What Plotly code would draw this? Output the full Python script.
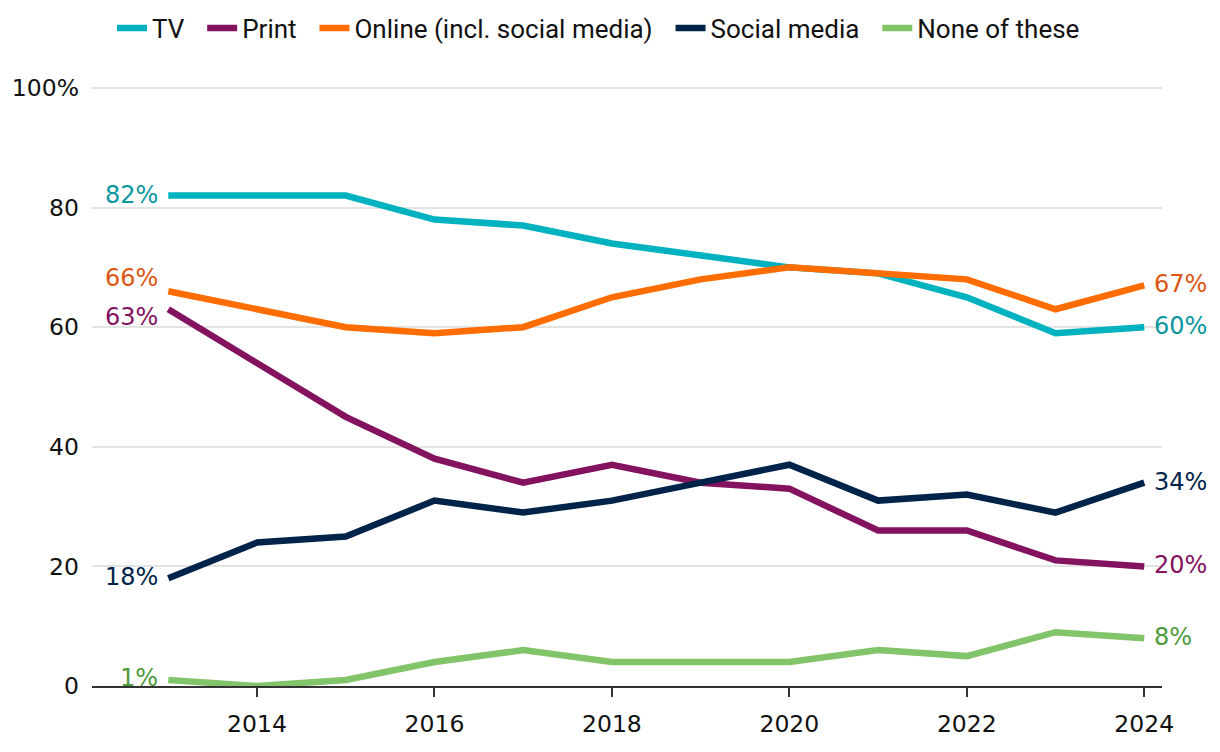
import plotly.graph_objects as go

years = list(range(2013, 2025))
tv = [82, 82, 82, 78, 77, 74, 72, 70, 69, 65, 59, 60]
print_ = [63, 54, 45, 38, 34, 37, 34, 33, 26, 26, 21, 20]
online = [66, 63, 60, 59, 60, 65, 68, 70, 69, 68, 63, 67]
social = [18, 24, 25, 31, 29, 31, 34, 37, 31, 32, 29, 34]
none_ = [1, 0, 1, 4, 6, 4, 4, 4, 6, 5, 9, 8]

series = [
    ("TV", tv, "#00b2bf", "#0a97a0"),
    ("Print", print_, "#83125f", "#83125f"),
    ("Online (incl. social media)", online, "#ff6c00", "#dc5510"),
    ("Social media", social, "#00234a", "#00234a"),
    ("None of these", none_, "#82c46a", "#4e9a3c"),
]

LEG_FONT = "Roboto"
NUM_FONT = "DejaVu Sans"
fig = go.Figure()
for name, vals, col, _ in series:
    fig.add_trace(go.Scatter(x=years, y=vals, name=name + "\u00a0\u00a0", mode="lines",
                             line=dict(color=col, width=6.5), hoverinfo="skip"))

left_shift = {"TV": 1, "Print": -8, "Online (incl. social media)": 13, "Social media": 1, "None of these": 2}
for name, vals, col, lcol in series:
    fig.add_annotation(x=years[0], y=vals[0], text=f"{vals[0]}%", showarrow=False,
                       xanchor="right", yanchor="middle", xshift=-8, yshift=left_shift[name],
                       font=dict(family=NUM_FONT, size=24, color=lcol))
    fig.add_annotation(x=years[-1], y=vals[-1], text=f"{vals[-1]}%", showarrow=False,
                       xanchor="left", yanchor="middle", xshift=8, yshift=1,
                       font=dict(family=NUM_FONT, size=24, color=lcol))

fig.update_layout(
    width=1212, height=744,
    margin=dict(l=84, r=58, t=78, b=66, autoexpand=False),
    paper_bgcolor="white", plot_bgcolor="white",
    font=dict(family=NUM_FONT, size=23, color="#111111"),
    showlegend=True,
    legend=dict(orientation="h", xref="container", x=104 / 1212, xanchor="left",
                yref="container", y=1 - 20 / 744, yanchor="middle",
                font=dict(family=LEG_FONT, size=26, color="#111111"),
                itemwidth=30, tracegroupgap=0),
    xaxis=dict(range=[2012.14, 2024.2], tickvals=[2014, 2016, 2018, 2020, 2022, 2024],
               ticks="outside", ticklen=9, tickcolor="#333333", tickwidth=2,
               ticklabelstandoff=7,
               showline=True, linecolor="#333333", linewidth=2, showgrid=False,
               zeroline=False, tickfont=dict(family=NUM_FONT, size=23.5, color="#111111")),
    yaxis=dict(range=[0, 100.33], tickvals=[0, 20, 40, 60, 80, 100],
               ticktext=["0", "20", "40", "60", "80", "100%"],
               showgrid=True, gridcolor="#e3e3e3", gridwidth=2, zeroline=False,
               showline=False, ticks="", ticklabelstandoff=12,
               tickfont=dict(family=NUM_FONT, size=23.5, color="#111111")),
)

fig.write_html("out.html")
